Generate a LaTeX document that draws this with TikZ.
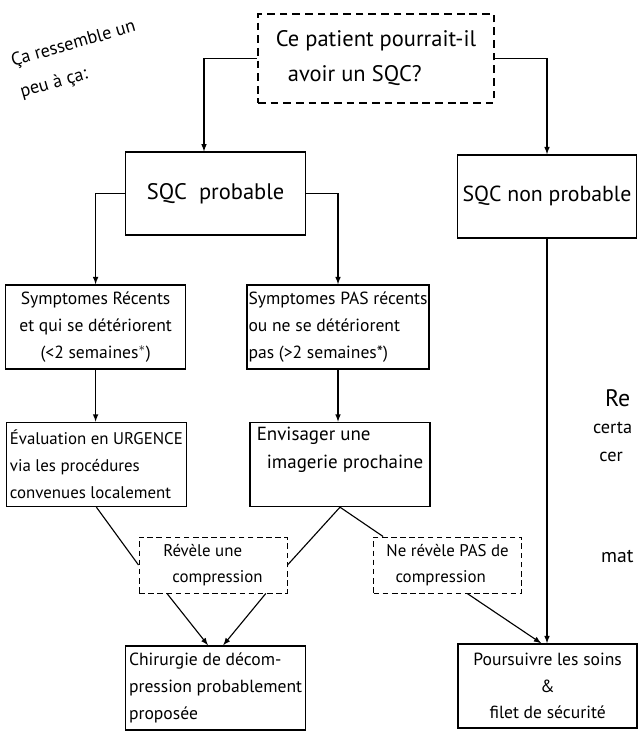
\documentclass[tikz,border=0pt]{standalone}
\usepackage{fontspec}
\setmainfont{PT Sans}
\usepackage{tikz}
\usetikzlibrary{calc,arrows.meta,positioning}
\tikzset{
  qbox/.style     = {draw, line width=1.5pt, dash pattern=on 5.5pt off 3.5pt,
                     minimum width=5.9cm, minimum height=2.22cm, inner sep=2pt,
                     align=left, font=\fontsize{16}{25}\selectfont},
  bigbox/.style   = {draw, line width=1.1pt, minimum width=4.5cm, minimum height=2.07cm,
                     inner sep=1pt, font=\fontsize{15.5}{20}\selectfont},
  stepbox/.style  = {draw, line width=1.1pt, minimum width=4.5cm, minimum height=2.1cm,
                     inner sep=1pt, align=left, font=\fontsize{12.5}{19}\selectfont},
  outbox/.style   = {draw, line width=0.7pt, dash pattern=on 4pt off 2.5pt,
                     minimum width=3.7cm, minimum height=1.4cm, inner sep=2pt,
                     align=left, font=\fontsize{12}{18}\selectfont},
  flow/.style     = {-latex, thick},
  scribble/.style = {align=left, font=\fontsize{13}{23}\selectfont},
  edgetext/.style = {anchor=west, inner sep=0pt, font=\fontsize{13}{16}\selectfont},
}

\begin{document}
\begin{tikzpicture}
  \useasboundingbox (0,0) rectangle (15.95,-18.275);

  \node[scribble, rotate=16] (intro) at (1.95,-1.5) {Ça ressemble un\\ peu à ça:};

  \node[qbox] (q) at (9.40,-1.46) {Ce patient pourrait-il\\ \ \ avoir un SQC?};

  \node[bigbox, font=\fontsize{16}{20}\selectfont] (prob) at (5.39,-4.84) {SQC\ \ probable};
  \node[bigbox, minimum width=4.47cm] (nprob) at (13.675,-4.91) {SQC non probable};

  \node[stepbox, align=center] (sympA) at (2.39,-8.175) {Symptomes Récents\\ et qui se détériorent\\ (<2 semaines$^{*}$)};
  \node[stepbox] (sympB) at (8.45,-8.175) {Symptomes PAS récents\\ ou ne se détériorent\\ pas (>2 semaines*)};

  \node[stepbox, font=\fontsize{12}{19}\selectfont] (evalA) at (2.41,-11.61) {Évaluation en URGENCE\\ via les procédures\\ convenues localement};
  \node[stepbox, font=\fontsize{13.5}{20}\selectfont] (envB) at (8.50,-11.61) {Envisager une\\ \ \ imagerie prochaine\\[4pt]};

  \node[outbox] (rev) at (5.325,-14.125) {Révèle une\\ \ \ compression};
  \node[outbox] (nrev) at (11.19,-14.125) {Ne révèle PAS de\\ \ \ compression};

  \node[stepbox] (chir) at (5.39,-17.2) {Chirurgie de décom-\\ pression probablement\\ proposée};
  \node[stepbox, align=center, minimum width=4.47cm] (soins) at (13.69,-17.15) {Poursuivre les soins\\ \&\\ filet de sécurité};

  \node[edgetext, font=\fontsize{17}{20}\selectfont] (re) at (15.12,-9.95) {Re};
  \node[edgetext] (certa) at (14.82,-10.70) {certa};
  \node[edgetext] (cer) at (14.98,-11.43) {cer};
  \node[edgetext, font=\fontsize{14}{16}\selectfont] (mat) at (15.02,-13.90) {mat};

  \draw[flow] (q.west) -| ([xshift=-0.29cm]prob.north);
  \draw[flow] (q.east) -| (nprob.north);
  \draw[flow] (prob.west) -| (sympA.north);
  \draw[flow] (prob.east) -| (sympB.north);
  \draw[flow] (sympA.south) -- (sympA.south |- evalA.north);
  \draw[flow] (sympB.south) -- (sympB.south |- envB.north);
  \draw[thick] (evalA.south) -- (rev.west);
  \draw[thick] (envB.south) -- (rev.east);
  \draw[thick] (envB.south) -- ([xshift=0.25cm]nrev.north west);
  \draw[flow] ([xshift=-1.15cm]rev.south) -- ([xshift=-0.19cm]chir.north);
  \draw[flow] ([xshift=1.32cm]rev.south) -- ([xshift=0.19cm]chir.north);
  \draw[flow] ([xshift=0.49cm]nrev.south) -- ([xshift=-0.16cm]soins.north);
  \draw[flow] (nprob.south) -- (nprob.south |- soins.north);
\end{tikzpicture}
\end{document}
